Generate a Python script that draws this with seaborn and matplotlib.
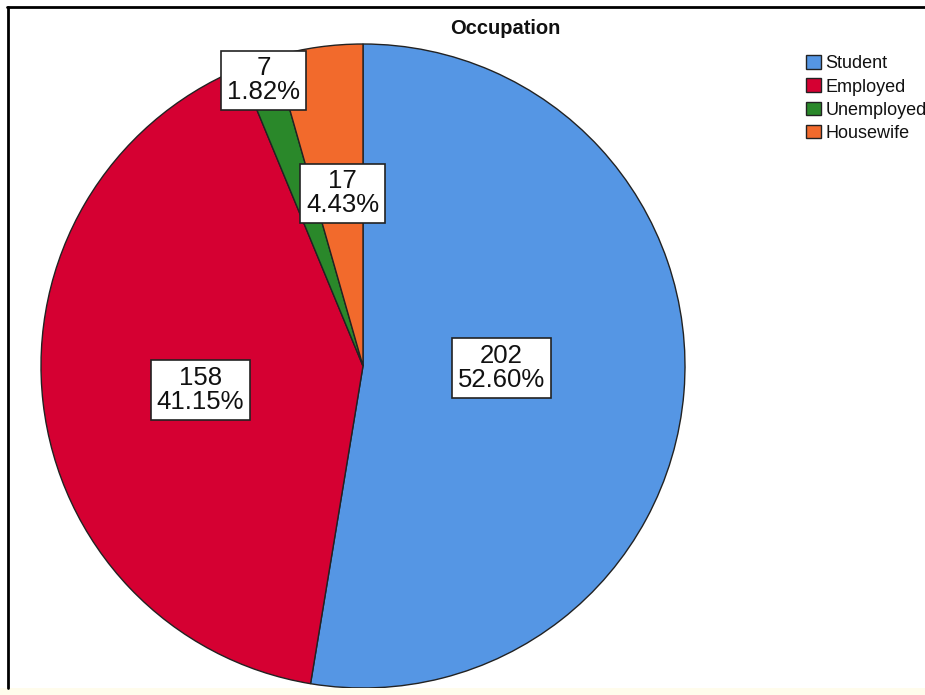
import numpy as np
import matplotlib
matplotlib.use("Agg")
import matplotlib.pyplot as plt
import seaborn as sns
from matplotlib.patches import Rectangle
from matplotlib.lines import Line2D

# ---- data ----
categories = ["Student", "Employed", "Unemployed", "Housewife"]
counts = [202, 158, 7, 17]
percents = ["52.60%", "41.15%", "1.82%", "4.43%"]
title = "Occupation"

# ---- style ----
colors = ["#5596E4", "#D50032", "#2A882A", "#F26A2C"]
label_r = [0.43, 0.51, 0.94, 0.54]
label_dang = [3.9, 1.8, 0.0, -1.2]

sns.set_theme(style="white")
plt.rcParams["font.family"] = ["Liberation Sans", "DejaVu Sans"]

W, H = 925, 695
fig = plt.figure(figsize=(W / 100, H / 100), dpi=100)
fig.patch.set_facecolor("white")
ax = fig.add_axes([0, 0, 1, 1])

cx, cy, R = 363, H - 366, 322
wedges, _ = ax.pie(counts, colors=colors, startangle=90, counterclock=False,
                   center=(cx, cy), radius=R,
                   wedgeprops=dict(edgecolor="#222222", linewidth=1.0))
ax.set_xlim(0, W)
ax.set_ylim(0, H)
ax.set_aspect("auto")
ax.axis("off")

# labels
for w, c, p, rf, da in zip(wedges, counts, percents, label_r, label_dang):
    ang = np.deg2rad((w.theta1 + w.theta2) / 2 + da)
    x = cx + rf * R * np.cos(ang)
    y = cy + rf * R * np.sin(ang)
    ax.text(x, y, f"{c}\n{p}", ha="center", va="center", multialignment="center",
            fontsize=18.5, color="#111111", linespacing=1.0,
            bbox=dict(boxstyle="square,pad=0.22", facecolor="white",
                      edgecolor="#222222", linewidth=1.2))

# title
fig.text(505 / W, 1 - 28 / H, title, ha="center", va="center",
         fontsize=14.5, fontweight="bold", color="#111111")

# legend
leg = fig.legend(wedges, categories, loc="upper left",
                 bbox_to_anchor=(799 / W, 1 - 48 / H), frameon=False,
                 fontsize=13, handlelength=0.8, handleheight=0.8,
                 handletextpad=0.25, labelspacing=0.33, borderaxespad=0)
for t in leg.get_texts():
    t.set_color("#111111")

# frame and bottom strip
fig.add_artist(Line2D([8 / W, 8 / W], [1 - 7 / H, 1 - 688 / H],
                      transform=fig.transFigure, color="black", linewidth=2))
fig.add_artist(Line2D([7 / W, 1], [1 - 7 / H, 1 - 7 / H],
                      transform=fig.transFigure, color="black", linewidth=2))
fig.add_artist(Rectangle((0, 0), 1, 7 / H, transform=fig.transFigure,
                         facecolor="#FFFCEC", edgecolor="none"))

fig.savefig("out.png", dpi=100)
